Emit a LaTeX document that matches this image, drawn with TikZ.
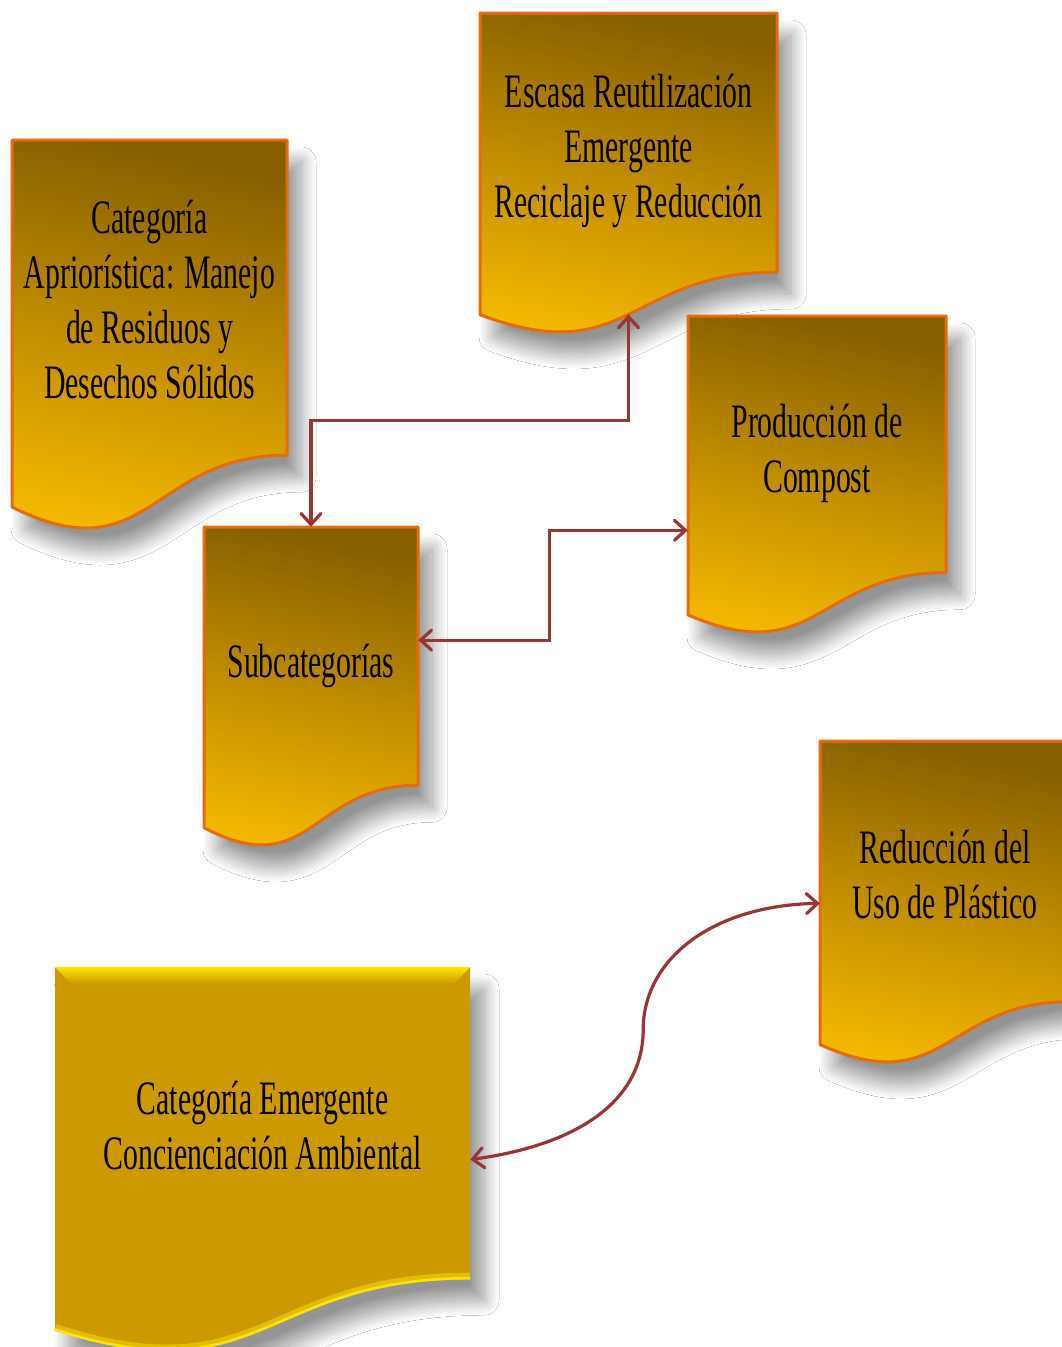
\documentclass[tikz,border=0pt]{standalone}
\usepackage{fontspec}
\setmainfont[FakeStretch=0.62]{Liberation Serif}
\usetikzlibrary{arrows.meta,shadows.blur}
\definecolor{gdark}{RGB}{134,95,0}
\definecolor{gmid}{RGB}{196,144,0}
\definecolor{gbright}{RGB}{250,190,0}
\definecolor{edgeor}{RGB}{228,108,10}
\definecolor{connc}{RGB}{150,55,53}
\definecolor{flatgold}{RGB}{204,153,0}
\definecolor{lightyel}{RGB}{255,228,0}
\tikzset{
  softshadow/.style={blur shadow={shadow xshift=14pt, shadow yshift=-22pt, shadow blur radius=15pt,
    shadow blur steps=24, shadow opacity=42}},
  docfill/.style={top color=gdark, bottom color=gbright, middle color=gmid, shading angle=-12,
    draw=edgeor, line width=3pt, line join=round, softshadow},
  flatfill/.style={fill=flatgold, draw=none, softshadow},
  docgeom/.style={draw=none, inner sep=0pt},
  doctext/.style={draw=none, inner sep=0pt, align=center, text=black,
    font=\fontsize{48}{55}\selectfont},
  conn/.style={draw=connc, line width=3.2pt, line cap=round,
    {Straight Barb[length=11pt,width=20pt,line cap=round]}-{Straight Barb[length=11pt,width=20pt,line cap=round]}}
}
% #1 name, #2 x1, #3 top, #4 x2, #5 height, #6 style, #7 text, #8 wave coordinate name, #9 text offset
\newcommand\docshape[9]{%
  \pgfmathsetmacro\dsX{#2}%
  \pgfmathsetmacro\dsY{#4}%
  \pgfmathsetmacro\dsR{#3+0.802*#5}%
  \pgfmathsetmacro\dsL{#3+0.934*#5}%
  \pgfmathsetmacro\dsC{#3+1.1075*#5}%
  \pgfmathsetmacro\dsM{(#2+#4)/2}%
  \pgfmathsetmacro\dsG{#3+0.401*#5}%
  \pgfmathsetmacro\dsT{#3+0.401*#5+#9}%
  \pgfmathsetmacro\dsW{#4-#2}%
  \pgfmathsetmacro\dsH{0.802*#5}%
  \path[#6] (#2,#3) -- (#4,#3) -- (#4,\dsR) .. controls (\dsM,\dsR) and (\dsM,\dsC) .. coordinate[pos=0.5] (#8) (#2,\dsL) -- cycle;
  \node[docgeom, minimum width=\dsW pt, minimum height=\dsH pt] (#1) at (\dsM,\dsG) {};
  \node[doctext] (#1-text) at (\dsM,\dsT) {#7};
}
\begin{document}
\begin{tikzpicture}[x=1pt,y=-1pt]
\useasboundingbox (0,0) rectangle (1062,1347);
\clip (0,0) rectangle (1062,1347);
\fill[white] (0,0) rectangle (1062,1347);

\docshape{apr}{12}{140}{287}{393}{docfill}{Categoría\\Apriorística: Manejo\\de Residuos y\\Desechos Sólidos}{aprw}{2}
\docshape{esc}{480}{13}{777}{323}{docfill}{Escasa Reutilización\\Emergente\\Reciclaje y Reducción}{escw}{8}
\docshape{prod}{688}{316}{946}{320}{docfill}{Producción de\\Compost}{prodw}{9}
\docshape{sub}{204}{527}{418}{322}{docfill}{Subcategorías}{subw}{10}
\docshape{red}{820}{741}{1070}{325}{docfill}{Reducción del\\Uso de Plástico}{redw}{3}
\docshape{emer}{55}{967}{470}{388}{flatfill}{Categoría Emergente\\Concienciación Ambiental}{emerw}{3}
% bevel highlights of the last box
\shade[top color=lightyel, bottom color=flatgold] (\dsX,967) -- (\dsY,967) -- (\dsY-16,984) -- (\dsX+16,984) -- cycle;
\draw[lightyel!80!flatgold, line width=7pt, opacity=0.6] (\dsY,\dsR-2) .. controls (\dsM,\dsR-2) and (\dsM,\dsC-2) .. (\dsX,\dsL-2);
\draw[lightyel, line width=2.5pt] (\dsY,\dsR) .. controls (\dsM,\dsR) and (\dsM,\dsC) .. (\dsX,\dsL);

\draw[conn] (sub.north) -- ++(0,-106) -| (escw);
\draw[conn] ([yshift=16pt]sub.east) -- ++(131,0) |- ([yshift=-86pt]prod.west);
\draw[conn] ([yshift=-37pt]emer.east) .. controls ++(110,-15) and ++(0,70) .. ++(173,-130)
  .. controls ++(0,-70) and ++(-108,2) .. ([yshift=-32pt]red.west);
\end{tikzpicture}
\end{document}
